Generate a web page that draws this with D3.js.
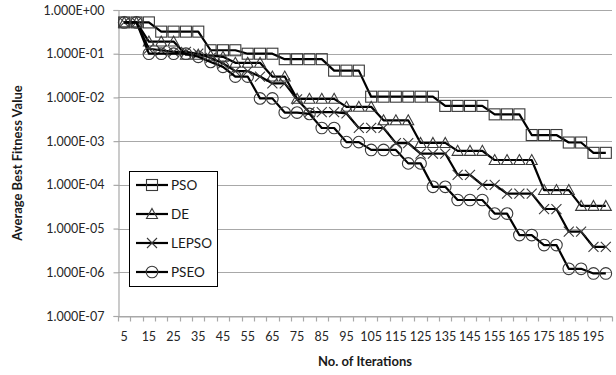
<!DOCTYPE html>
<html>
<head>
<meta charset="utf-8">
<script src="https://cdn.jsdelivr.net/npm/d3@7"></script>
<style>
  html, body { margin: 0; padding: 0; background: #fff; }
  svg { display: block; }
  text { font-family: Lato, "Open Sans", "Liberation Sans", sans-serif; }
</style>
</head>
<body>
<svg id="chart" width="616" height="375"></svg>
<script>
// Iteration counts (x categories)
const iterations = d3.range(5, 201, 5);

// Average best fitness per algorithm, one value per iteration count
const pso = [0.52, 0.52, 0.52, 0.32, 0.32, 0.32, 0.32, 0.12, 0.12, 0.12,
             0.1, 0.1, 0.1, 0.075, 0.075, 0.075, 0.075, 0.041, 0.041, 0.041,
             0.0104, 0.0104, 0.0104, 0.0104, 0.0104, 0.0104, 0.0064, 0.0064, 0.0064, 0.0064,
             0.0041, 0.0041, 0.0041, 0.00138, 0.00138, 0.00138, 0.00093, 0.00093, 0.00054, 0.00054];
const de = [0.52, 0.52, 0.19, 0.19, 0.19, 0.095, 0.095, 0.09, 0.085, 0.062,
            0.062, 0.062, 0.030, 0.030, 0.0093, 0.0093, 0.0093, 0.0093, 0.0061, 0.0061,
            0.0061, 0.0030, 0.0030, 0.0030, 0.00091, 0.00091, 0.00091, 0.0006, 0.0006, 0.0006,
            0.00037, 0.00037, 0.00037, 0.00037, 0.000076, 0.000076, 0.000076, 0.000033, 0.000033, 0.000033];
const lepso = [0.52, 0.52, 0.13, 0.12, 0.11, 0.11, 0.1, 0.08, 0.06, 0.04,
               0.04, 0.03, 0.021, 0.021, 0.009, 0.0046, 0.0046, 0.0046, 0.0043, 0.002,
               0.002, 0.002, 0.0009, 0.0009, 0.00052, 0.00052, 0.00052, 0.00017, 0.00017, 0.0001,
               0.0001, 0.000063, 0.000063, 0.000063, 0.000028, 0.000028, 0.0000085, 0.0000085, 0.0000038, 0.0000038];
const pseo = [0.52, 0.52, 0.1, 0.1, 0.1, 0.1, 0.085, 0.065, 0.05, 0.03,
              0.03, 0.0095, 0.0095, 0.0045, 0.0045, 0.0042, 0.002, 0.002, 0.00095, 0.00095,
              0.00063, 0.00063, 0.00063, 0.00031, 0.00031, 0.00009, 0.00009, 0.000045, 0.000045, 0.000045,
              0.000022, 0.000022, 0.0000071, 0.0000071, 0.0000042, 0.0000042, 0.0000012, 0.0000012, 0.00000094, 0.00000094];

const seriesNames = ["PSO", "DE", "LEPSO", "PSEO"];
const seriesMarkers = ["square", "triangle", "cross", "circle"];
const seriesValues = [pso, de, lepso, pseo];

// Axis ticks
const yTicks = [1, 1e-1, 1e-2, 1e-3, 1e-4, 1e-5, 1e-6, 1e-7];
const yTickLabels = ["1.000E+00", "1.000E-01", "1.000E-02", "1.000E-03",
                     "1.000E-04", "1.000E-05", "1.000E-06", "1.000E-07"];
const xTickLabels = iterations.filter((d, i) => i % 2 === 0);

const xTitle = "No. of Iterations";
const yTitle = "Average Best Fitness Value";

const svg = d3.select("#chart");
const plot = { left: 118, right: 612, top: 10, bottom: 316 };

const x = d3.scaleBand().domain(iterations).range([plot.left, plot.right]).padding(0);
const y = d3.scaleLog().domain([1e-7, 1]).range([plot.bottom, plot.top]);

const gridColor = "#a8a8a8";

// Horizontal gridlines
svg.append("g")
  .selectAll("line")
  .data(yTicks)
  .join("line")
  .attr("x1", plot.left).attr("x2", plot.right)
  .attr("y1", d => Math.round(y(d)) + 0.5).attr("y2", d => Math.round(y(d)) + 0.5)
  .attr("stroke", gridColor).attr("stroke-width", 1);

// Y axis
const yAxis = svg.append("g")
  .attr("transform", `translate(${plot.left + 0.5},0)`)
  .call(d3.axisLeft(y).tickValues(yTicks)
    .tickFormat((d, i) => yTickLabels[i]).tickSize(5).tickPadding(9));
yAxis.select(".domain").attr("stroke", gridColor).attr("stroke-width", 1.2);
yAxis.selectAll(".tick line").attr("stroke", gridColor).attr("stroke-width", 1.2);
yAxis.selectAll(".tick text")
  .attr("font-size", 12.5).attr("fill", "#262626")
  .style("font-family", "Lato, 'Open Sans', sans-serif");

// X axis: labels on every other category, tick marks at category boundaries
const xAxis = svg.append("g")
  .attr("transform", `translate(0,${plot.bottom + 0.5})`)
  .call(d3.axisBottom(x).tickValues(xTickLabels).tickSize(0).tickPadding(16));
xAxis.select(".domain").attr("stroke", gridColor).attr("stroke-width", 1.2);
xAxis.selectAll(".tick text")
  .attr("font-size", 12.5).attr("fill", "#262626")
  .style("font-family", "Lato, 'Open Sans', sans-serif");

const boundaries = iterations.map(d => x(d)).concat([x(iterations[iterations.length - 1]) + x.bandwidth()]);
xAxis.append("g")
  .selectAll("line")
  .data(boundaries)
  .join("line")
  .attr("x1", d => Math.round(d) + 0.5).attr("x2", d => Math.round(d) + 0.5)
  .attr("y1", 0).attr("y2", 5)
  .attr("stroke", gridColor).attr("stroke-width", 1.2);

// Axis titles
svg.append("text")
  .attr("x", (plot.left + plot.right) / 2)
  .attr("y", 366)
  .attr("text-anchor", "middle")
  .attr("font-size", 13).attr("font-weight", "bold").attr("fill", "#1a1a1a")
  .text(xTitle);

svg.append("text")
  .attr("transform", `translate(22,${(plot.top + plot.bottom) / 2}) rotate(-90)`)
  .attr("text-anchor", "middle")
  .attr("font-size", 13).attr("font-weight", "bold").attr("fill", "#1a1a1a")
  .text(yTitle);

// Marker shapes
const markerStroke = "#3a3a3a";
function drawMarker(g, type, cx, cy) {
  if (type === "square") {
    g.append("rect").attr("x", cx - 5.5).attr("y", cy - 5.5)
      .attr("width", 11).attr("height", 11)
      .attr("fill", "none").attr("stroke", markerStroke).attr("stroke-width", 1.1);
  } else if (type === "triangle") {
    g.append("path")
      .attr("d", `M${cx},${cy - 5.5}L${cx + 5.5},${cy + 4.5}L${cx - 5.5},${cy + 4.5}Z`)
      .attr("fill", "none").attr("stroke", markerStroke).attr("stroke-width", 1.1);
  } else if (type === "cross") {
    g.append("path")
      .attr("d", `M${cx - 5},${cy - 5}L${cx + 5},${cy + 5}M${cx - 5},${cy + 5}L${cx + 5},${cy - 5}`)
      .attr("fill", "none").attr("stroke", markerStroke).attr("stroke-width", 1.1);
  } else {
    g.append("circle").attr("cx", cx).attr("cy", cy).attr("r", 5.8)
      .attr("fill", "none").attr("stroke", markerStroke).attr("stroke-width", 1.1);
  }
}

const line = d3.line()
  .x((d, i) => x(iterations[i]) + x.bandwidth() / 2)
  .y(d => y(d));

seriesValues.forEach((vals, s) => {
  const g = svg.append("g");
  g.append("path")
    .attr("d", line(vals))
    .attr("fill", "none").attr("stroke", "#000").attr("stroke-width", 2.2)
    .attr("stroke-linejoin", "round");
  vals.forEach((v, i) => {
    drawMarker(g, seriesMarkers[s], x(iterations[i]) + x.bandwidth() / 2, y(v));
  });
});

// Legend
const legend = svg.append("g");
legend.append("rect")
  .attr("x", 129.5).attr("y", 171.5).attr("width", 88).attr("height", 115)
  .attr("fill", "#fff").attr("stroke", "#000").attr("stroke-width", 1);
seriesNames.forEach((name, s) => {
  const ly = 185 + s * 29;
  legend.append("line")
    .attr("x1", 136).attr("x2", 168).attr("y1", ly).attr("y2", ly)
    .attr("stroke", "#000").attr("stroke-width", 2.2);
  drawMarker(legend, seriesMarkers[s], 152, ly);
  legend.append("text")
    .attr("x", 171).attr("y", ly + 4.5)
    .attr("font-size", 13.5).attr("fill", "#1a1a1a")
    .text(name);
});
</script>
</body>
</html>
